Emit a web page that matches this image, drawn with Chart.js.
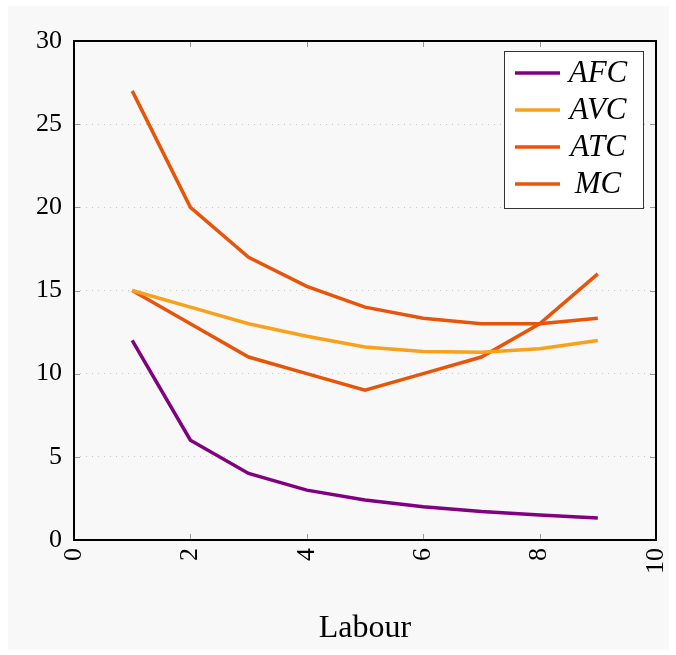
<!DOCTYPE html>
<html>
<head>
<meta charset="utf-8">
<script src="https://cdn.jsdelivr.net/npm/chart.js@4"></script>
<style>
  html, body { margin: 0; padding: 0; background: #ffffff; }
  #wrap { width: 676px; height: 655px; }
</style>
</head>
<body>
<div id="wrap"><canvas id="myChart" width="676" height="655"></canvas></div>
<script>
// labour units on the x axis
const labour = [1, 2, 3, 4, 5, 6, 7, 8, 9];

// cost curves
const afc = [12, 6, 4, 3, 2.4, 2, 1.71, 1.5, 1.33];
const avc = [15, 14, 13, 12.25, 11.6, 11.33, 11.29, 11.5, 12];
const atc = [27, 20, 17, 15.25, 14, 13.33, 13, 13, 13.33];
const mc = [15, 13, 11, 10, 9, 10, 11, 13, 16];

const xTicks = [0, 2, 4, 6, 8, 10];
const yTicks = [0, 5, 10, 15, 20, 25, 30];

const seriesNames = ["AFC", "AVC", "ATC", "MC"];
const seriesColors = ["#800080", "#f9a11b", "#e8550a", "#e8550a"];

function pts(ys) {
  return labour.map((x, i) => ({ x: x, y: ys[i] }));
}

const serif = "'Liberation Serif', 'DejaVu Serif', serif";

// grey figure background
const bgPlugin = {
  id: "bg",
  beforeDraw(chart) {
    const c = chart.ctx;
    c.save();
    c.fillStyle = "#f8f8f8";
    c.fillRect(8, 6, 661, 644);
    c.restore();
  },
};

// box around plot, inner tick marks, legend
const framePlugin = {
  id: "frame",
  afterDraw(chart) {
    const c = chart.ctx;
    const a = chart.chartArea;
    const xs = chart.scales.x;
    const ys = chart.scales.y;
    c.save();
    // inner ticks
    c.strokeStyle = "#999999";
    c.lineWidth = 1;
    xTicks.slice(1, -1).forEach((t) => {
      const px = Math.round(xs.getPixelForValue(t)) + 0.5;
      c.beginPath();
      c.moveTo(px, a.bottom); c.lineTo(px, a.bottom - 6);
      c.moveTo(px, a.top); c.lineTo(px, a.top + 6);
      c.stroke();
    });
    yTicks.slice(1, -1).forEach((t) => {
      const py = Math.round(ys.getPixelForValue(t)) + 0.5;
      c.beginPath();
      c.moveTo(a.left, py); c.lineTo(a.left + 6, py);
      c.moveTo(a.right, py); c.lineTo(a.right - 6, py);
      c.stroke();
    });
    // frame
    c.strokeStyle = "#000000";
    c.lineWidth = 2;
    c.strokeRect(a.left, a.top, a.right - a.left, a.bottom - a.top);

    // legend box
    const lx = 504, ly = 51, lw = 139, lh = 157;
    c.fillStyle = "#ffffff";
    c.fillRect(lx, ly, lw, lh);
    c.strokeStyle = "#333333";
    c.lineWidth = 1;
    c.strokeRect(lx + 0.5, ly + 0.5, lw, lh);
    c.font = "italic 31px " + serif;
    c.textBaseline = "middle";
    c.textAlign = "center";
    chart.data.datasets.forEach((ds, i) => {
      const yy = ly + 22 + i * 37;
      c.strokeStyle = ds.borderColor;
      c.lineWidth = 3.5;
      c.beginPath();
      c.moveTo(lx + 11, yy);
      c.lineTo(lx + 56, yy);
      c.stroke();
      c.fillStyle = "#000000";
      c.fillText(ds.label, lx + 94, yy + 1);
    });
    c.restore();
  },
};

const ctx = document.getElementById("myChart");

new Chart(ctx, {
  type: "line",
  data: {
    datasets: [
      { label: seriesNames[0], data: pts(afc), borderColor: seriesColors[0] },
      { label: seriesNames[1], data: pts(avc), borderColor: seriesColors[1] },
      { label: seriesNames[2], data: pts(atc), borderColor: seriesColors[2] },
      { label: seriesNames[3], data: pts(mc), borderColor: seriesColors[3] },
    ],
  },
  options: {
    responsive: false,
    animation: false,
    devicePixelRatio: 1,
    layout: { padding: { top: 41, right: 20, left: 0, bottom: 0 } },
    elements: {
      line: { borderWidth: 3.5, tension: 0, fill: false },
      point: { radius: 0 },
    },
    plugins: {
      legend: { display: false },
      tooltip: { enabled: false },
    },
    scales: {
      x: {
        type: "linear",
        min: 0,
        max: 10,
        afterBuildTicks(scale) {
          scale.ticks = xTicks.map((v) => ({ value: v }));
        },
        afterFit(scale) {
          scale.height = 115;
          scale.paddingLeft = 0;
          scale.paddingRight = 0;
        },
        grid: { display: false, drawTicks: false },
        border: { display: false },
        ticks: {
          minRotation: 90,
          maxRotation: 90,
          padding: 8,
          color: "#000000",
          font: { family: serif, size: 26 },
        },
        title: {
          display: true,
          text: "Labour",
          color: "#000000",
          font: { family: serif, size: 32 },
          padding: { top: 0, bottom: 7 },
        },
      },
      y: {
        type: "linear",
        min: 0,
        max: 30,
        afterBuildTicks(scale) {
          scale.ticks = yTicks.map((v) => ({ value: v }));
        },
        afterFit(scale) {
          scale.width = 74;
          scale.paddingTop = 0;
          scale.paddingBottom = 0;
        },
        grid: {
          drawTicks: false,
          color: (c) => (c.tick.value === 0 || c.tick.value === 30 ? "rgba(0,0,0,0)" : "#c8c8c8"),
          lineWidth: 1,
        },
        border: { display: false, dash: [1, 5] },
        ticks: {
          padding: 12,
          color: "#000000",
          font: { family: serif, size: 26 },
        },
      },
    },
  },
  plugins: [bgPlugin, framePlugin],
});
</script>
</body>
</html>
